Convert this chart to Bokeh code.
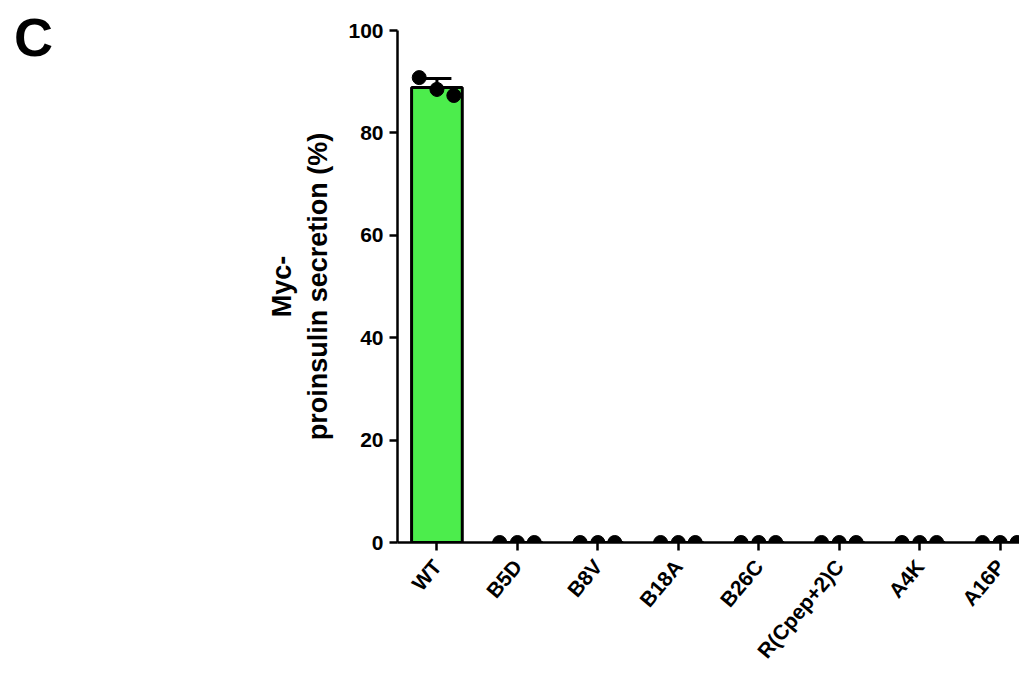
import math
from bokeh.plotting import figure
from bokeh.layouts import row
from bokeh.models import Div, FixedTicker
from bokeh.embed import file_html
from bokeh.resources import INLINE

categories = ["WT", "B5D", "B8V", "B18A", "B26C", "R(Cpep+2)C", "A4K", "A16P"]
rep1 = [90.8, 0, 0, 0, 0, 0, 0, 0]
rep2 = [88.5, 0, 0, 0, 0, 0, 0, 0]
rep3 = [87.3, 0, 0, 0, 0, 0, 0, 0]
y_ticks = [0, 20, 40, 60, 80, 100]

FONT = "Liberation Sans"
PANEL_W = 80

xs = list(range(len(categories)))
means = [(a + b + c) / 3 for a, b, c in zip(rep1, rep2, rep3)]
sds = []
for a, b, c, m in zip(rep1, rep2, rep3, means):
    sds.append(math.sqrt(((a - m) ** 2 + (b - m) ** 2 + (c - m) ** 2) / 2))

# panel letter
letter = Div(text="C", width=PANEL_W - 14, height=70, margin=(10, 0, 0, 14),
             styles={"font-family": FONT, "font-size": "54px", "font-weight": "bold",
                     "color": "black", "line-height": "1"})

p = figure(frame_width=622, frame_height=512, x_range=(-0.49, 7.24), y_range=(0, 100),
           output_backend="svg", toolbar_location=None,
           min_border_left=397 - PANEL_W, min_border_top=30, min_border_bottom=123, min_border_right=0)
p.outline_line_color = None
p.grid.visible = False
p.background_fill_color = "white"
p.border_fill_color = "white"

# bars
p.vbar(x=xs, top=means, width=0.63, fill_color="#4ced4c", line_color="black", line_width=3)

# error bars (SD)
cap_l = [x - 0.18 for x in xs]
cap_r = [x + 0.18 for x in xs]
tops = [m + s for m, s in zip(means, sds)]
bots = [m - s for m, s in zip(means, sds)]
keep = [i for i, s in enumerate(sds) if s > 0]
p.segment(x0=[xs[i] for i in keep], y0=[bots[i] for i in keep],
          x1=[xs[i] for i in keep], y1=[tops[i] for i in keep], line_color="black", line_width=3)
p.segment(x0=[cap_l[i] for i in keep], y0=[tops[i] for i in keep],
          x1=[cap_r[i] for i in keep], y1=[tops[i] for i in keep], line_color="black", line_width=3)

# individual points
offs = [-0.22, 0.0, 0.21]
for off, rep in zip(offs, [rep1, rep2, rep3]):
    p.scatter(x=[x + off for x in xs], y=rep, size=14, fill_color="black", line_color="black")

# axes
p.xaxis.ticker = FixedTicker(ticks=xs)
p.xaxis.major_label_overrides = {i: c for i, c in enumerate(categories)}
p.xaxis.major_label_orientation = math.radians(50)
p.yaxis.ticker = FixedTicker(ticks=y_ticks)
for ax in (p.xaxis[0], p.yaxis[0]):
    ax.axis_line_width = 2.5
    ax.axis_line_color = "black"
    ax.major_tick_line_width = 2.5
    ax.major_tick_line_color = "black"
    ax.major_tick_out = 8
    ax.major_tick_in = 0
    ax.minor_tick_out = 0
    ax.minor_tick_in = 0
    ax.major_label_text_font = FONT
    ax.major_label_text_font_style = "bold"
    ax.major_label_text_color = "black"
ax = p.yaxis[0]
ax.major_label_text_font_size = "21px"
ax.major_label_standoff = 6
ax.axis_label = "Myc-\nproinsulin secretion (%)"
ax.axis_label_text_font = FONT
ax.axis_label_text_font_style = "bold"
ax.axis_label_text_font_size = "27px"
ax.axis_label_text_color = "black"
ax.axis_label_standoff = 12
p.xaxis[0].major_label_text_font_size = "21px"
p.xaxis[0].major_label_standoff = 12

layout = row(letter, p, spacing=0)
open("out.html", "w").write(file_html(layout, INLINE))
